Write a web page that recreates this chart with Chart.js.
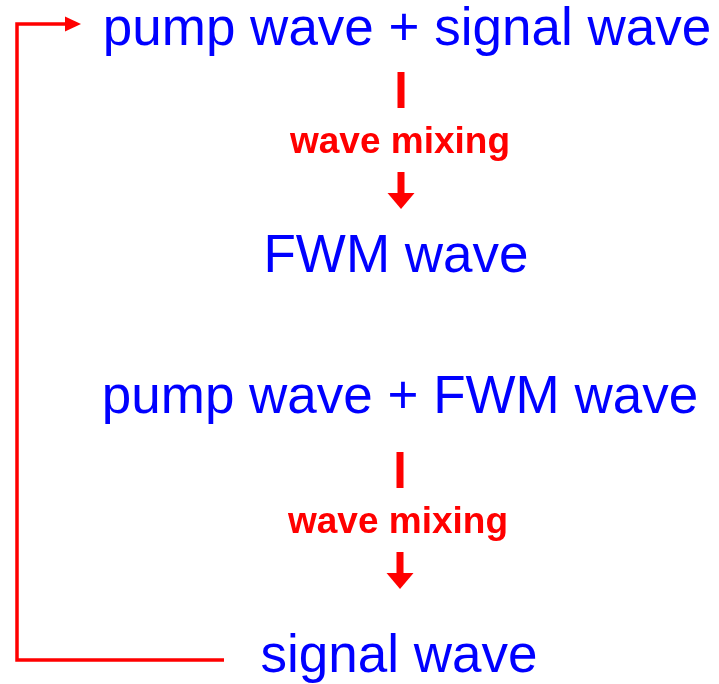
<!DOCTYPE html>
<html>
<head>
<meta charset="utf-8">
<script src="https://cdn.jsdelivr.net/npm/chart.js@4/dist/chart.umd.min.js"></script>
<style>
  html, body { margin: 0; padding: 0; background: #fff; }
  #wrap { width: 719px; height: 684px; }
</style>
</head>
<body>
<div id="wrap"><canvas id="diagram" width="719" height="684"></canvas></div>
<script>
// diagram nodes (x = centre, y = baseline, in the 719 x 684 data space)
const nodeLabels = ['pump wave + signal wave', 'FWM wave', 'pump wave + FWM wave', 'signal wave'];
const nodeX = [407, 396, 400, 399];
const nodeY = [45, 272, 413, 672];

// "wave mixing" steps between the nodes
const mixLabels = ['wave mixing', 'wave mixing'];
const mixX = [400, 398];
const mixY = [153, 533];
const barX = [401, 400];
const barTop = [72, 452];
const barBottom = [108, 488];
const shaftTop = [172, 552];
const tipY = [209, 589];

// feedback loop: signal wave back to the first row
const loopX = [224, 17, 17, 81];
const loopY = [660, 660, 24, 24];

const RED = '#ff0000';
const BLUE = '#0000ff';

const datasets = [];

// loop line, arrow head at the last point
datasets.push({
    data: loopX.map((x, i) => ({ x: x, y: loopY[i] })),
    borderColor: RED,
    borderWidth: 3.5,
    pointRadius: 0,
    showLine: true,
    borderJoinStyle: 'miter',
    arrow: { len: 16, half: 7.5 }
});

barX.forEach((x, i) => {
    datasets.push({
        data: [{ x: x, y: barTop[i] }, { x: x, y: barBottom[i] }],
        borderColor: RED,
        borderWidth: 7,
        pointRadius: 0,
        showLine: true,
        borderCapStyle: 'butt'
    });
    datasets.push({
        data: [{ x: x, y: shaftTop[i] }, { x: x, y: tipY[i] }],
        borderColor: RED,
        borderWidth: 7,
        pointRadius: 0,
        showLine: true,
        borderCapStyle: 'butt',
        arrow: { len: 16, half: 13.5 }
    });
});

// arrow heads: hides the shaft inside the head and puts a filled triangle there
const arrowHeads = {
    id: 'arrowHeads',
    afterDatasetsDraw(chart) {
        const ctx = chart.ctx;
        chart.data.datasets.forEach((ds, di) => {
            if (!ds.arrow) return;
            const pts = chart.getDatasetMeta(di).data;
            const a = pts[pts.length - 2], b = pts[pts.length - 1];
            const ang = Math.atan2(b.y - a.y, b.x - a.x);
            const len = ds.arrow.len, half = ds.arrow.half;
            ctx.save();
            ctx.translate(b.x, b.y);
            ctx.rotate(ang);
            ctx.fillStyle = '#fff';
            ctx.fillRect(-len + 0.5, -half - 3, len + 4, 2 * half + 6);
            ctx.fillStyle = ds.borderColor;
            ctx.beginPath();
            ctx.moveTo(0, 0);
            ctx.lineTo(-len, half);
            ctx.lineTo(-len, -half);
            ctx.closePath();
            ctx.fill();
            ctx.restore();
        });
    }
};

// text labels placed through the scales
const textLabels = {
    id: 'textLabels',
    afterDraw(chart) {
        const ctx = chart.ctx;
        const sx = chart.scales.x, sy = chart.scales.y;
        ctx.save();
        ctx.textAlign = 'center';
        ctx.textBaseline = 'alphabetic';
        ctx.fillStyle = BLUE;
        ctx.font = '53px "Liberation Sans", Arial, sans-serif';
        nodeLabels.forEach((t, i) => {
            ctx.fillText(t, sx.getPixelForValue(nodeX[i]), sy.getPixelForValue(nodeY[i]));
        });
        ctx.fillStyle = RED;
        ctx.font = 'bold 37px "Liberation Sans", Arial, sans-serif';
        mixLabels.forEach((t, i) => {
            ctx.fillText(t, sx.getPixelForValue(mixX[i]), sy.getPixelForValue(mixY[i]));
        });
        ctx.restore();
    }
};

new Chart(document.getElementById('diagram'), {
    type: 'scatter',
    data: { datasets: datasets },
    options: {
        responsive: false,
        animation: false,
        devicePixelRatio: 1,
        layout: { padding: 0 },
        plugins: { legend: { display: false }, tooltip: { enabled: false } },
        scales: {
            x: { type: 'linear', min: 0, max: 719, display: false },
            y: { type: 'linear', min: 0, max: 684, reverse: true, display: false }
        }
    },
    plugins: [arrowHeads, textLabels]
});
</script>
</body>
</html>
